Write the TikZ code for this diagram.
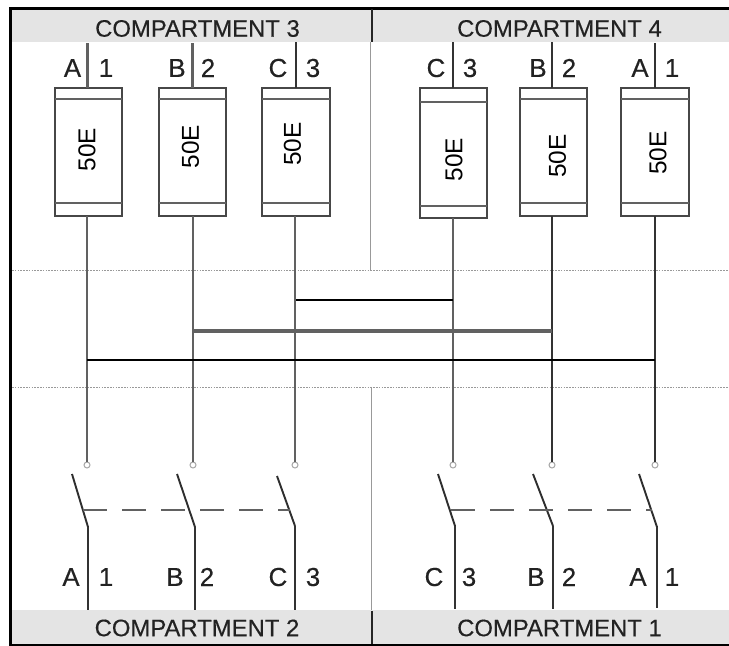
\documentclass[tikz,border=0pt]{standalone}
\usepackage{fontspec}
\setmainfont{Liberation Sans}
\definecolor{band}{HTML}{E4E4E4}
\definecolor{txt}{HTML}{222222}
\tikzset{
  every node/.style={inner sep=0pt,outer sep=0pt},
  px/.style={line width=#1*0.75pt},
  fusebox/.style={draw=black!72,px=2,rectangle,fill=white},
  fusebar/.style={draw=black!62,px=2.4},
  wiregray/.style={draw=black!62,px=2.9},
  wiredark/.style={draw=black!80,px=2.2},
  wireblack/.style={draw=black,px=2},
  busthick/.style={draw=black!62,px=3.2},
  blade/.style={draw=black!82,px=1.9},
  gangline/.style={draw=black!62,px=1.7,dash pattern=on 18pt off 11.25pt},
  contact/.style={circle,draw=black!35,fill=white,px=1,minimum size=4.5pt},
  border/.style={draw=black,px=2.6},
  divider/.style={draw=black!85,px=2.4},
  thinline/.style={draw=black!40,px=1},
  dotline/.style={draw=black!40,px=1,dash pattern=on 1.2pt off 0.9pt},
  bandlabel/.style={font=\fontsize{17.9pt}{19pt}\selectfont\addfontfeature{FakeBold=0.35},text=txt},
  phase/.style={font=\fontsize{19.5pt}{21pt}\selectfont\addfontfeature{FakeBold=0.35},text=txt},
  rating/.style={font=\fontsize{18.3pt}{20pt}\selectfont,text=black,rotate=90},
}
\newcommand{\fusepart}[8]{% name, xl, xr, yt, yb, bar1, bar2, label centre "x,y"
  \node[fusebox,minimum width={(#3-#2)*0.75pt},minimum height={(#5-#4)*0.75pt}] (#1) at ({(#2+#3)/2},{(#4+#5)/2}) {};
  \draw[fusebar] (#2,#6) -- (#3,#6);
  \draw[fusebar] (#2,#7) -- (#3,#7);
  \node[rating] (#1t) at (#8) {50E};
}
\begin{document}
\begin{tikzpicture}[x=0.75pt,y=-0.75pt]
\useasboundingbox (0,0) rectangle (729,646);
\fill[white] (0,0) rectangle (729,646);
% bands
\fill[band] (11,9) rectangle (729,42);
\fill[band] (11,610) rectangle (729,644);
% zone lines
\draw[thinline] (370.5,42) -- (370.5,270);
\draw[thinline] (371.5,387) -- (371.5,610);
\draw[dotline] (12,270) -- (729,270);
\draw[dotline] (12,387) -- (729,387);
% frame
\draw[border] (729,8.5) -- (10.5,8.5) -- (10.5,645) -- (729,645);
\draw[divider] (372,9) -- (372,42);
\draw[divider] (372,611) -- (372,644);
% band labels
\node[bandlabel] (c3) at (197.5,28.5) {COMPARTMENT 3};
\node[bandlabel] (c4) at (559.5,28.5) {COMPARTMENT 4};
\node[bandlabel] (c2) at (197,628) {COMPARTMENT 2};
\node[bandlabel] (c1) at (559.5,628) {COMPARTMENT 1};
% fuses
\fusepart{f1}{55}{122}{88}{216}{99}{203}{87,149.5}
\fusepart{f2}{159}{226}{88}{216}{99}{203}{190.5,146.5}
\fusepart{f3}{262}{330}{88}{216}{99}{203}{292.5,144}
\fusepart{f4}{420}{487}{88}{218}{102}{206}{454,159.5}
\fusepart{f5}{520}{587}{88}{216}{99}{203}{557.5,156}
\fusepart{f6}{621}{689}{88}{216}{99}{203}{658,153}
% contacts
\node[contact] (o1) at (87,465) {};
\node[contact] (o2) at (193,465) {};
\node[contact] (o3) at (295,465) {};
\node[contact] (o4) at (453,465) {};
\node[contact] (o5) at (552,465) {};
\node[contact] (o6) at (655,465) {};
% top wire ends
\coordinate (t1) at (87.5,43);
\coordinate (t2) at (192.5,43);
\coordinate (t3) at (296,42);
\coordinate (t4) at (453,42);
\coordinate (t5) at (552,42);
\coordinate (t6) at (655,43);
\draw[wiregray] (t1) -- (t1 |- f1.north);
\draw[wiregray] (t2) -- (t2 |- f2.north);
\draw[wiredark] (t3) -- (t3 |- f3.north);
\draw[wiredark] (t4) -- (t4 |- f4.north);
\draw[wiredark] (t5) -- (t5 |- f5.north);
\draw[wiredark] (t6) -- (t6 |- f6.north);
% main wires fuse to contact
\draw[wiregray] (o1.north |- f1.south) -- (o1.north);
\draw[wiregray] (o2.north |- f2.south) -- (o2.north);
\draw[wiregray] (o3.north |- f3.south) -- (o3.north);
\draw[wiregray] (o4.north |- f4.south) -- (o4.north);
\draw[wiredark] (o5.north |- f5.south) -- (o5.north);
\draw[wiredark] (o6.north |- f6.south) -- (o6.north);
% cross connections
\coordinate (b3l) at (296,300); \coordinate (b3r) at (453,300);
\coordinate (b2l) at (192.5,331); \coordinate (b2r) at (552,331);
\coordinate (b1l) at (87,360); \coordinate (b1r) at (655,360);
\draw[wireblack] (b3l) -- (b3r);
\draw[busthick] (b2l) -- (b2r);
\draw[wireblack] (b1l) -- (b1r);
% switches
\coordinate (h1) at (88,527); \coordinate (e1) at (72,474); \coordinate (g1) at (88,610);
\coordinate (h2) at (195,527); \coordinate (e2) at (177,474); \coordinate (g2) at (195,610);
\coordinate (h3) at (295,526); \coordinate (e3) at (277,476); \coordinate (g3) at (295,610);
\coordinate (h4) at (455,526); \coordinate (e4) at (438,474); \coordinate (g4) at (455,609);
\coordinate (h5) at (553,526); \coordinate (e5) at (533,474); \coordinate (g5) at (553,609);
\coordinate (h6) at (657,527); \coordinate (e6) at (639,474); \coordinate (g6) at (657,608);
\foreach \n in {1,...,6}{
  \draw[blade] (e\n) -- (h\n);
  \draw[wiredark,px=2.6] (h\n) -- (g\n);
}
\coordinate (gl1) at (83,510); \coordinate (gl2) at (290,510);
\coordinate (gr1) at (451,510); \coordinate (gr2) at (652,510);
\draw[gangline] (gl1) -- (gl2);
\draw[gangline] (gr1) -- (gr2);
% top phase labels
\node[phase] (ta1) at (72.5,68) {A};
\node[phase] (tn1) at (106,68) {1};
\node[phase] (ta2) at (177,68) {B};
\node[phase] (tn2) at (208,68) {2};
\node[phase] (ta3) at (278,68) {C};
\node[phase] (tn3) at (313,68) {3};
\node[phase] (ta4) at (436,68) {C};
\node[phase] (tn4) at (470,68) {3};
\node[phase] (ta5) at (538,68) {B};
\node[phase] (tn5) at (569,68) {2};
\node[phase] (ta6) at (640,68) {A};
\node[phase] (tn6) at (672,68) {1};
% bottom phase labels
\node[phase] (ba1) at (71,577) {A};
\node[phase] (bn1) at (106,577) {1};
\node[phase] (ba2) at (175,577) {B};
\node[phase] (bn2) at (207,577) {2};
\node[phase] (ba3) at (278,577) {C};
\node[phase] (bn3) at (313,577) {3};
\node[phase] (ba4) at (434,577) {C};
\node[phase] (bn4) at (469,577) {3};
\node[phase] (ba5) at (536,577) {B};
\node[phase] (bn5) at (569,577) {2};
\node[phase] (ba6) at (638,577) {A};
\node[phase] (bn6) at (672,577) {1};
\end{tikzpicture}
\end{document}
